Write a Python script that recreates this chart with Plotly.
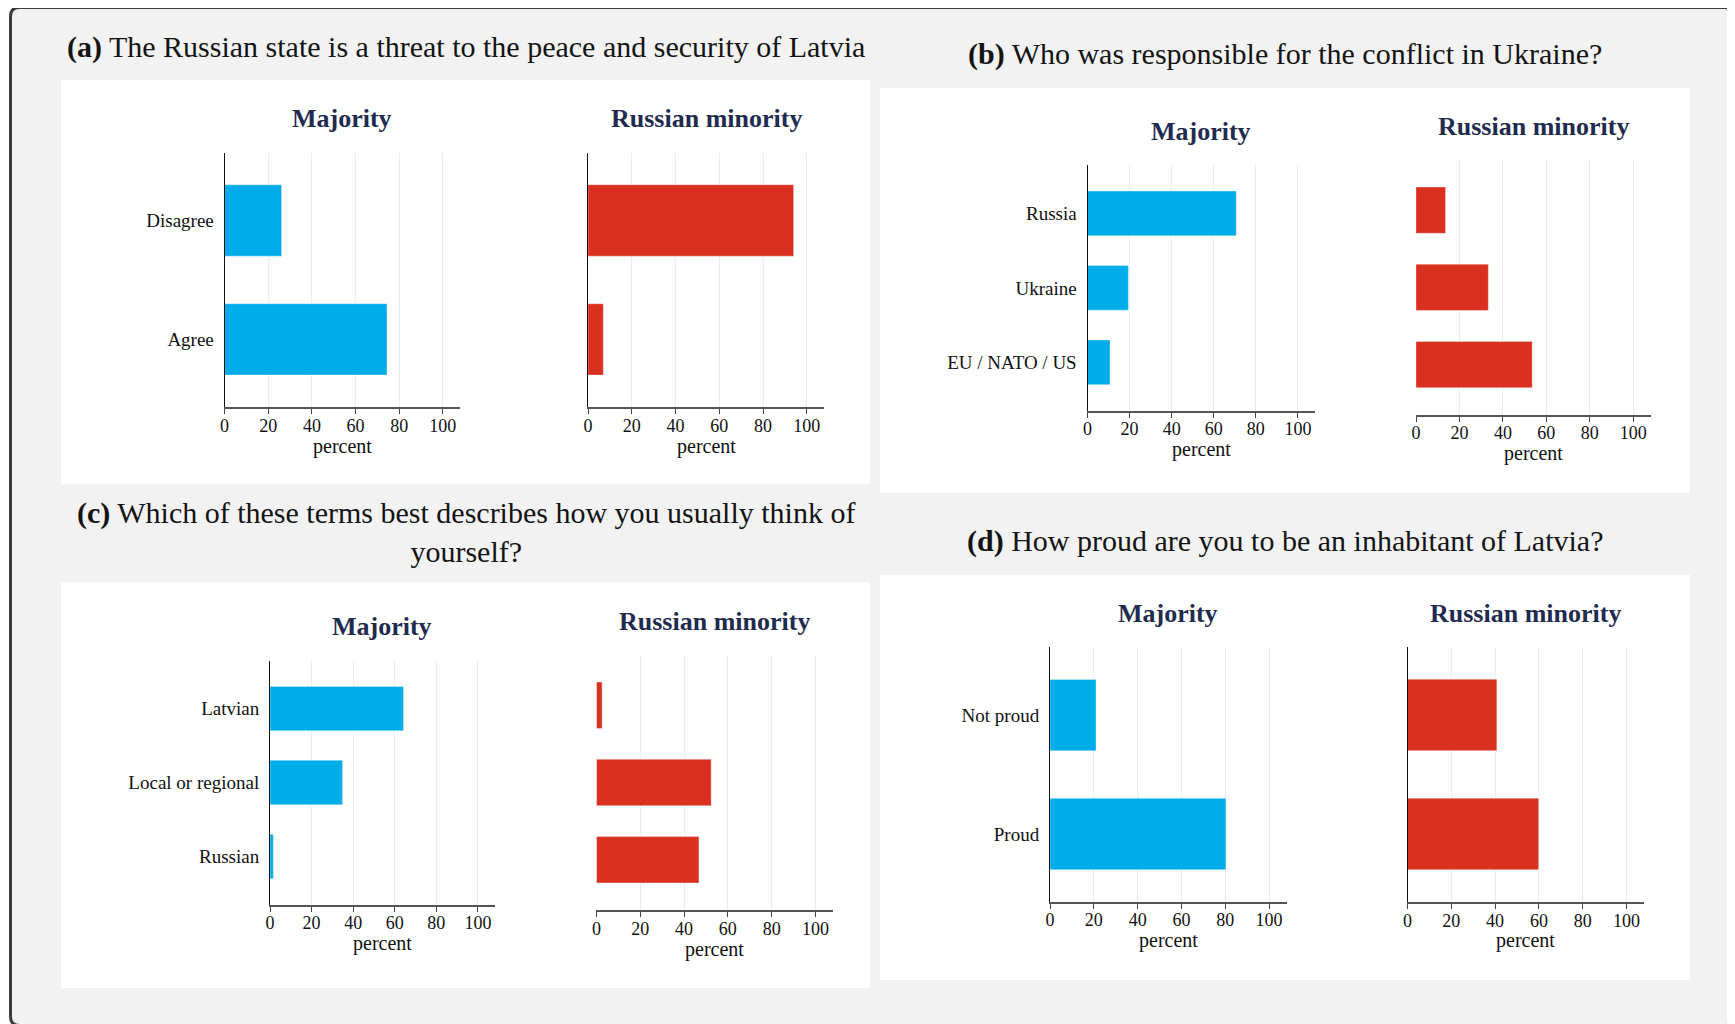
import plotly.graph_objects as go

# page body adds an 8px margin, so the figure is drawn slightly smaller and all
# layout positions below are given in window pixels, shifted by OFF
OFF = 8
W, H = 1735 - OFF, 1024 - OFF

# ---------------- data ----------------
cats_a = ["Disagree", "Agree"]
maj_a = [26.1, 74.4]
min_a = [94.0, 7.0]

cats_b = ["Russia", "Ukraine", "EU / NATO / US"]
maj_b = [70.7, 19.4, 10.7]
min_b = [13.6, 33.3, 53.5]

cats_c = ["Latvian", "Local or regional", "Russian"]
maj_c = [64.2, 34.9, 1.6]
min_c = [2.6, 52.4, 46.8]

cats_d = ["Not proud", "Proud"]
maj_d = [21.0, 80.3]
min_d = [40.8, 59.9]

panel_titles = [
    "<b>(a)</b> The Russian state is a threat to the peace and security of Latvia",
    "<b>(b)</b> Who was responsible for the conflict in Ukraine?",
    "<b>(c)</b> Which of these terms best describes how you usually think of<br>yourself?",
    "<b>(d)</b> How proud are you to be an inhabitant of Latvia?",
]
group_titles = ["Majority", "Russian minority"]
x_ticks = [0, 20, 40, 60, 80, 100]
x_title = "percent"

# ---------------- style ----------------
FONT = "Liberation Serif"
BLUE = "#00adea"
RED = "#d93020"
NAVY = "#1f2b4f"
GRID = "#e6eef1"


def px(x):
    return (x - OFF) / W


def py(y):
    return 1 - (y - OFF) / H


subplots = [
    dict(cats=cats_a, vals=maj_a, color=BLUE, x=(224.6, 460.3), y=(152.7, 407.2), yline=True, labels=True),
    dict(cats=cats_a, vals=min_a, color=RED, x=(588.0, 824.3), y=(152.7, 407.2), yline=True, labels=False),
    dict(cats=cats_b, vals=maj_b, color=BLUE, x=(1087.5, 1314.8), y=(165.0, 410.7), yline=True, labels=True),
    dict(cats=cats_b, vals=min_b, color=RED, x=(1416.0, 1650.6), y=(160.0, 414.7), yline=False, labels=False),
    dict(cats=cats_c, vals=maj_c, color=BLUE, x=(270.0, 494.6), y=(660.5, 904.6), yline=True, labels=True),
    dict(cats=cats_c, vals=min_c, color=RED, x=(596.4, 833.0), y=(655.0, 910.0), yline=False, labels=False),
    dict(cats=cats_d, vals=maj_d, color=BLUE, x=(1050.0, 1286.6), y=(647.3, 901.8), yline=True, labels=True),
    dict(cats=cats_d, vals=min_d, color=RED, x=(1407.5, 1644.0), y=(647.0, 901.9), yline=True, labels=False),
]

fig = go.Figure()
layout = {}
annotations = []

for i, sp in enumerate(subplots, start=1):
    suffix = "" if i == 1 else str(i)
    n = len(sp["cats"])
    pad = 0.57 if n == 2 else 0.65
    fig.add_trace(go.Bar(
        x=sp["vals"], y=sp["cats"], orientation="h",
        xaxis="x" + suffix, yaxis="y" + suffix,
        marker=dict(color=sp["color"], line=dict(color="rgba(255,255,255,0.35)", width=1)),
        width=0.6, showlegend=False, hoverinfo="x+y",
    ))
    layout["xaxis" + suffix] = dict(
        domain=[px(sp["x"][0]), px(sp["x"][1])],
        anchor="y" + suffix,
        range=[0, 108],
        tickvals=x_ticks,
        ticks="outside", ticklen=5, tickwidth=1, tickcolor="#444",
        ticklabelstandoff=-4,
        showline=True, linecolor="#555", linewidth=2,
        showgrid=True, gridcolor=GRID, gridwidth=1,
        zeroline=False,
        tickfont=dict(family=FONT, size=18, color="#111"),
        automargin=False, fixedrange=True,
    )
    layout["yaxis" + suffix] = dict(
        domain=[py(sp["y"][1]), py(sp["y"][0])],
        anchor="x" + suffix,
        type="category",
        categoryorder="array", categoryarray=sp["cats"],
        range=[n - 1 + pad, -pad],
        showline=sp["yline"], linecolor="#111", linewidth=1,
        ticks="", showgrid=False, zeroline=False,
        showticklabels=sp["labels"],
        ticklabelstandoff=6,
        tickfont=dict(family=FONT, size=19, color="#111"),
        automargin=False, fixedrange=True,
    )
    cx = (sp["x"][0] + sp["x"][1]) / 2
    annotations.append(dict(
        text="<b>" + group_titles[(i - 1) % 2] + "</b>",
        x=px(cx), y=py(sp["y"][0] - 34), xref="paper", yref="paper",
        xanchor="center", yanchor="middle", showarrow=False,
        font=dict(family=FONT, size=26, color=NAVY),
    ))
    annotations.append(dict(
        text=x_title,
        x=px(cx), y=py(sp["y"][1] + 39), xref="paper", yref="paper",
        xanchor="center", yanchor="middle", showarrow=False,
        font=dict(family=FONT, size=20, color="#111"),
    ))

# panel titles
title_pos = [(466, 46.5), (1285, 54.2), (466, 532.2), (1285, 541.0)]
for t, (x, y) in zip(panel_titles, title_pos):
    annotations.append(dict(
        text=t, x=px(x), y=py(y), xref="paper", yref="paper",
        xanchor="center", yanchor="middle", showarrow=False,
        font=dict(family=FONT, size=30, color="#141414"),
    ))

# frame with rounded corners
x0, y0, x1, y1, r = 10.5, 7.5, 1733.5, 1025.5, 9


def P(x, y):
    return f"{px(x):.6f},{py(y):.6f}"


frame_path = (
    f"M {P(x0 + r, y0)} L {P(x1 - r, y0)} Q {P(x1, y0)} {P(x1, y0 + r)} "
    f"L {P(x1, y1 - r)} Q {P(x1, y1)} {P(x1 - r, y1)} "
    f"L {P(x0 + r, y1)} Q {P(x0, y1)} {P(x0, y1 - r)} "
    f"L {P(x0, y0 + r)} Q {P(x0, y0)} {P(x0 + r, y0)} Z"
)
shapes = [dict(type="path", path=frame_path, xref="paper", yref="paper",
               fillcolor="#f2f2f2", line=dict(color="#3d3d3d", width=3), layer="below")]

boxes = [(61, 870, 80, 484.3), (880, 1690, 88, 492.7), (61, 870, 582.4, 988), (880, 1690, 574.8, 980)]
for bx0, bx1, by0, by1 in boxes:
    shapes.append(dict(type="rect", xref="paper", yref="paper",
                       x0=px(bx0), x1=px(bx1), y0=py(by1), y1=py(by0),
                       fillcolor="white", line=dict(width=0), layer="below"))

fig.update_layout(
    **layout,
    width=W, height=H,
    margin=dict(l=0, r=0, t=0, b=0),
    paper_bgcolor="white",
    plot_bgcolor="rgba(0,0,0,0)",
    shapes=shapes,
    annotations=annotations,
    bargap=0.4,
    font=dict(family=FONT),
)

fig.write_html("out.html")
